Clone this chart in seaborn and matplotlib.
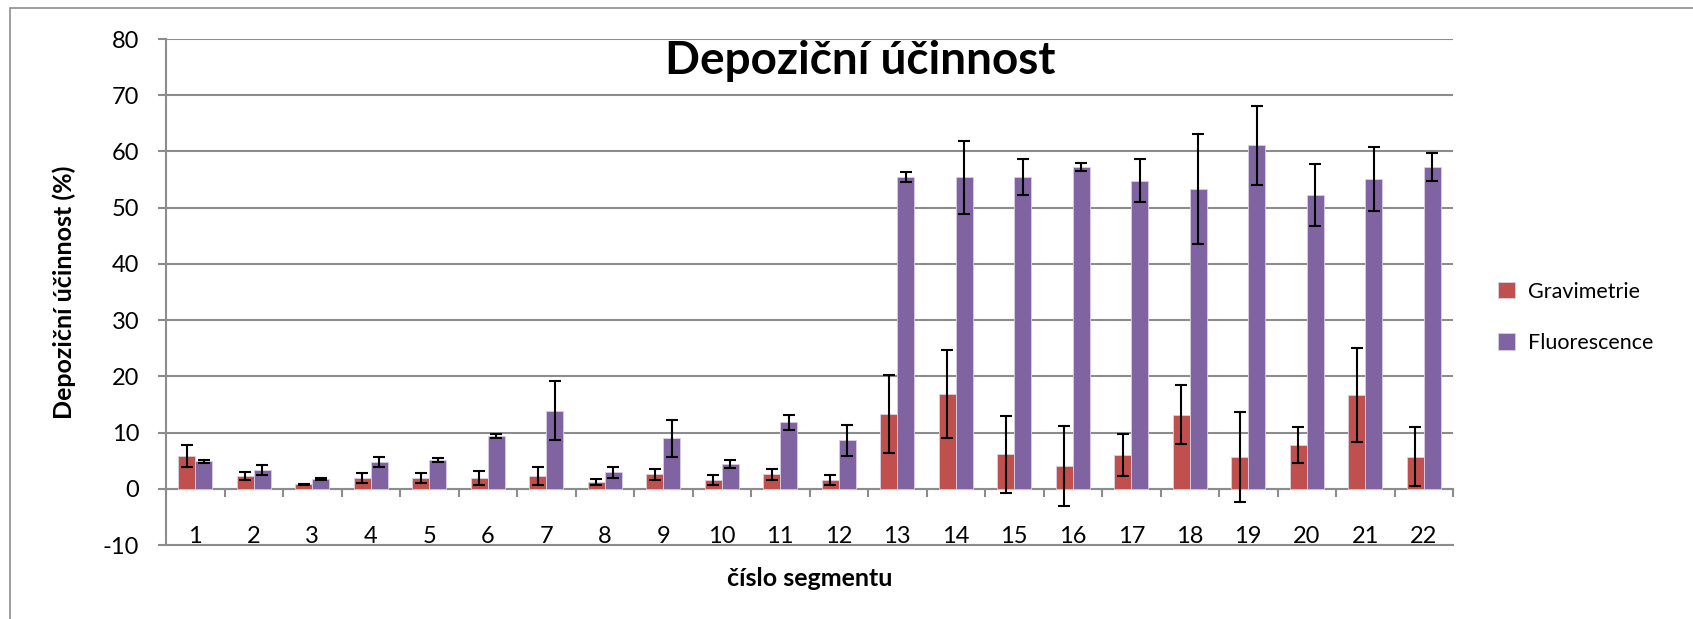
import numpy as np
import pandas as pd
import matplotlib
matplotlib.use("Agg")
import matplotlib.pyplot as plt
import seaborn as sns
from matplotlib.patches import Rectangle

# data
segments = [str(i) for i in range(1, 23)]
gravimetrie = [5.8, 2.2, 0.8, 1.9, 1.9, 1.9, 2.2, 1.2, 2.6, 1.5, 2.6, 1.5,
               13.3, 16.8, 6.1, 4.0, 6.0, 13.2, 5.7, 7.8, 16.7, 5.7]
gravimetrie_err = [2.0, 0.7, 0.1, 0.9, 0.9, 1.2, 1.6, 0.5, 1.0, 0.9, 1.0, 0.9,
                   7.0, 7.8, 6.8, 7.1, 3.7, 5.2, 8.0, 3.2, 8.4, 5.2]
fluorescence = [4.9, 3.4, 1.8, 4.8, 5.1, 9.4, 13.9, 2.9, 9.0, 4.4, 11.8, 8.6,
                55.4, 55.4, 55.5, 57.3, 54.8, 53.3, 61.1, 52.3, 55.1, 57.3]
fluorescence_err = [0.3, 0.9, 0.2, 0.9, 0.3, 0.4, 5.3, 1.0, 3.3, 0.7, 1.4, 2.8,
                    0.9, 6.5, 3.2, 0.7, 3.8, 9.8, 7.0, 5.5, 5.7, 2.5]
series = ["Gravimetrie", "Fluorescence"]
colors = ["#C0504D", "#8064A2"]

df = pd.DataFrame({
    "segment": segments * 2,
    "metoda": [series[0]] * 22 + [series[1]] * 22,
    "value": gravimetrie + fluorescence,
    "err": gravimetrie_err + fluorescence_err,
})

sns.set_theme(style="white")
plt.rcParams["font.family"] = ["Lato", "DejaVu Sans"]
plt.rcParams["axes.unicode_minus"] = False
plt.rcParams["text.color"] = "black"
plt.rcParams["axes.labelcolor"] = "black"

fig = plt.figure(figsize=(16.93, 6.19), dpi=100)
ax = fig.add_axes([166 / 1693, 1 - 545 / 619, (1453 - 166) / 1693, (545 - 39) / 619])

sns.barplot(data=df, x="segment", y="value", hue="metoda", hue_order=series,
            palette=colors, errorbar=None, width=0.58, saturation=1,
            edgecolor="#d8d0e4", linewidth=0.6, ax=ax, zorder=3)

# error bars at the centres of the bars seaborn drew
for cont, name in zip(ax.containers, series):
    sub = df[df["metoda"] == name]
    xs = [p.get_x() + p.get_width() / 2 for p in cont.patches]
    ax.errorbar(xs, sub["value"], yerr=sub["err"], fmt="none", ecolor="black",
                elinewidth=1.5, capsize=4.5, capthick=1.5, zorder=4)

grid_c = "#8c8c8c"
ax.set_ylim(-10, 80)
ax.set_xlim(-0.5, 21.5)
ax.set_yticks(range(-10, 81, 10))
ax.yaxis.grid(True, color=grid_c, linewidth=1.5, zorder=0)
ax.set_axisbelow(True)
ax.tick_params(axis="y", left=True, length=5.8, width=1.5, color=grid_c,
               labelsize=17, pad=13.5, labelcolor="black")
ax.set_xticks([])
ax.set_xlabel("")
for s in ["top", "right"]:
    ax.spines[s].set_visible(False)
for s in ["left", "bottom"]:
    ax.spines[s].set_color(grid_c)
    ax.spines[s].set_linewidth(1.5)

# category axis crossing at zero
sec = ax.secondary_xaxis(10 / 90)
sec.spines["bottom"].set_color(grid_c)
sec.spines["bottom"].set_linewidth(1.5)
sec.set_xticks(range(22))
sec.set_xticklabels(segments)
sec.set_xticks(np.arange(-0.5, 22, 1.0), minor=True)
sec.tick_params(axis="x", which="major", length=0, pad=27, labelsize=17,
                labelcolor="black")
sec.tick_params(axis="x", which="minor", length=5.8, width=1.5, color=grid_c)

ax.set_ylabel("Depoziční účinnost (%)", fontsize=18, fontweight="bold")
ax.yaxis.set_label_coords(-0.07, 0.5)
fig.text(810 / 1693, 1 - 578 / 619, "číslo segmentu", fontsize=18,
         fontweight="bold", ha="center", va="center")
fig.text(860 / 1693, 1 - 61 / 619, "Depoziční účinnost", fontsize=33,
         fontweight="bold", ha="center", va="center")

handles, labels = ax.get_legend_handles_labels()
ax.legend(handles, labels, loc="center left", bbox_to_anchor=(1.02, 0.45),
          frameon=False, fontsize=15.5, handlelength=0.8, handleheight=0.8,
          handletextpad=0.6, labelspacing=1.45)

fig.patches.append(Rectangle((10 / 1693, -0.1), 1.2, 1 - 8 / 619 + 0.1,
                             transform=fig.transFigure, fill=False,
                             edgecolor="#8c8c8c", linewidth=1.2))

fig.savefig("out.png", dpi=100)
